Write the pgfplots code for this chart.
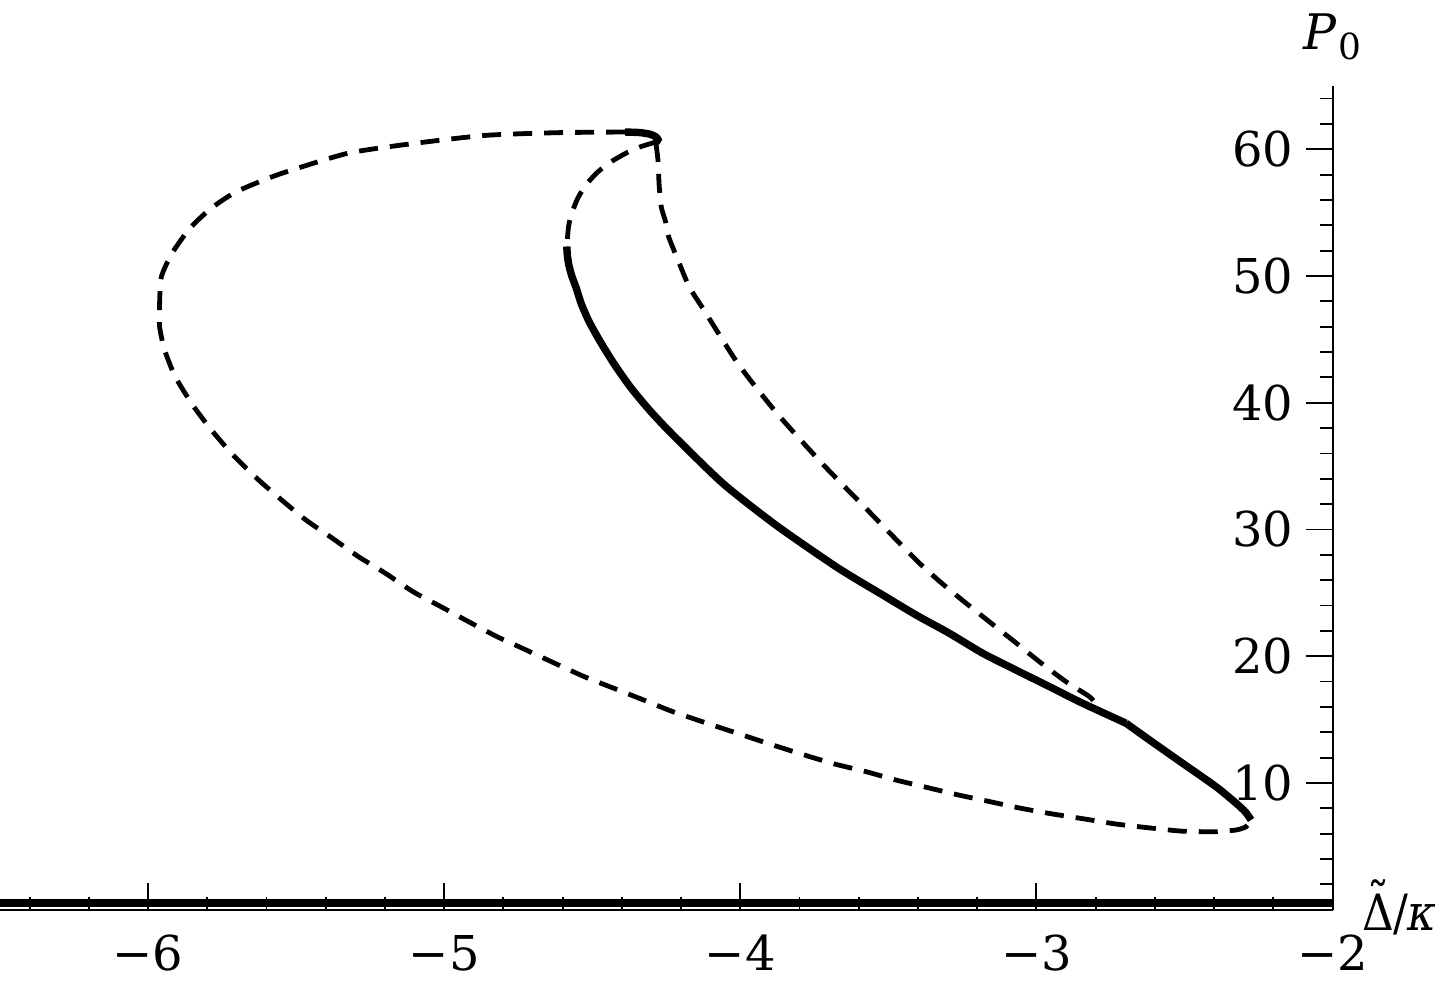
\documentclass[border=0pt]{standalone}
\usepackage{fontspec}
\setmainfont{DejaVu Serif}
\usepackage{graphicx}
\usepackage{pgfplots}
\usepackage{pgfplotstable}
\pgfplotsset{compat=1.18}

\newcommand{\tDelta}{\ooalign{Δ\cr\hidewidth\raisebox{6pt}{\char"02DC}\hidewidth\cr}}

% outer unstable loop (dashed)
\pgfplotstableread{
x y
-4.389 61.36
-4.616 61.31
-4.858 61.10
-5.099 60.47
-5.317 59.73
-5.485 58.58
-5.581 57.83
-5.702 56.65
-5.787 55.34
-5.859 53.76
-5.919 51.79
-5.955 49.94
-5.961 47.85
-5.961 46.00
-5.944 44.16
-5.908 42.05
-5.847 39.74
-5.781 37.71
-5.713 35.88
-5.633 34.04
-5.549 32.33
-5.467 30.75
-5.377 29.30
-5.289 27.85
-5.198 26.54
-5.105 25.09
-5.011 23.91
-4.917 22.72
-4.821 21.54
-4.723 20.49
-4.626 19.44
-4.526 18.38
-4.427 17.47
-4.327 16.55
-4.227 15.62
-4.094 14.57
-3.992 13.78
-3.891 13.00
-3.784 12.21
-3.682 11.50
-3.575 10.89
-3.474 10.23
-3.367 9.63
-3.263 9.05
-3.156 8.52
-3.052 8.00
-2.945 7.55
-2.838 7.16
-2.731 6.76
-2.624 6.47
-2.517 6.21
-2.450 6.16
-2.393 6.15
-2.325 6.29
-2.292 6.55
-2.275 7.08
}\outerdashed

% short stable piece at the top
\pgfplotstableread{
x y
-4.389 61.36
-4.341 61.32
-4.307 61.20
-4.287 61.01
-4.278 60.77
-4.285 60.53
}\topsolid

% inner dashed (top, going back to the left)
\pgfplotstableread{
x y
-4.280 60.61
-4.339 60.18
-4.382 59.74
-4.436 59.02
-4.485 58.13
-4.524 57.10
-4.550 56.08
-4.571 54.81
-4.580 53.89
-4.586 52.33
}\innerdashed

% right dashed branch
\pgfplotstableread{
x y
-4.285 60.49
-4.278 59.15
-4.274 57.18
-4.267 55.47
-4.252 54.26
-4.242 53.10
-4.206 51.00
-4.172 49.13
-4.123 47.32
-4.007 43.06
-3.877 39.19
-3.722 35.17
-3.564 31.38
-3.406 27.59
-3.328 25.93
-3.249 24.40
-3.159 22.72
-3.074 21.15
-2.990 19.57
-2.900 17.99
-2.821 16.81
-2.787 15.91
}\rightdashed

% stable branch (solid), upper part down to the kink
\pgfplotstableread{
x y
-4.586 52.33
-4.584 51.66
-4.579 50.87
-4.569 50.00
-4.554 49.05
-4.537 47.81
-4.510 46.37
-4.472 44.79
-4.426 43.06
-4.369 41.17
-4.304 39.35
-4.227 37.45
-4.058 33.62
-3.877 30.30
-3.671 26.98
-3.519 24.83
-3.406 23.25
-3.294 21.81
-3.181 20.23
-3.069 18.91
-2.956 17.60
-2.844 16.29
-2.697 14.71
}\stablesolid

% stable branch (solid), from the kink to the turning point
\pgfplotstableread{
x y
-2.697 14.71
-2.618 13.39
-2.506 11.55
-2.393 9.70
-2.325 8.39
-2.294 7.71
-2.275 7.08
}\stablelow

% trivial solution
\pgfplotstableread{
x y
-6.6 0.53
-2.0 0.53
}\trivial

\begin{document}
\begin{tikzpicture}
\path[use as bounding box] (0pt,-37.15pt) rectangle (720pt,454.85pt);
\begin{axis}[
  at={(0pt,0pt)}, anchor=south west,
  scale only axis, width=666.25pt, height=411.9pt,
  xmin=-6.5, xmax=-2, ymin=0, ymax=65,
  axis x line=bottom, axis y line=right,
  axis line style={-, line width=1pt, black},
  tick align=inside,
  major tick length=13.5pt, minor tick length=6.5pt,
  every tick/.style={black, line width=0.9pt},
  xtick={-6,-5,-4,-3,-2}, xticklabels={−6,−5,−4,−3,−2},
  minor xtick={-6.4,-6.2,-5.8,-5.6,-5.4,-5.2,-4.8,-4.6,-4.4,-4.2,-3.8,-3.6,-3.4,-3.2,-2.8,-2.6,-2.4,-2.2},
  ytick={10,20,30,40,50,60}, yticklabels={10,20,30,40,50,60},
  minor ytick={2,4,6,8,12,14,16,18,22,24,26,28,32,34,36,38,42,44,46,48,52,54,56,58,62,64},
  xticklabel style={anchor=north, yshift=-12.6pt, inner sep=0pt, font=\fontsize{24}{24}\selectfont},
  yticklabel style={anchor=east, xshift=-19.5pt, inner sep=0pt, font=\fontsize{24}{24}\selectfont},
  xlabel={\scalebox{0.88}[1]{\tDelta\kern-0.5pt/\kern-0.5pt\textit{κ}}},
  ylabel={\textit{P}\kern0.5pt\raisebox{-4.6pt}{\fontsize{18}{18}\selectfont 0}},
  every axis x label/.style={at={(rel axis cs:1,0)}, anchor=base west, xshift=15pt, yshift=-10.6pt, inner sep=0pt, font=\fontsize{25}{25}\selectfont},
  every axis y label/.style={at={(rel axis cs:1,1)}, anchor=base, yshift=18pt, inner sep=0pt, font=\fontsize{24.5}{24.5}\selectfont},
]
\addplot[black, line width=2.4pt, dash pattern=on 9.5pt off 6pt, smooth, tension=0.4] table[x=x,y=y] {\outerdashed};
\addplot[black, line width=2.4pt, dash pattern=on 9.5pt off 6pt, smooth, tension=0.4] table[x=x,y=y] {\innerdashed};
\addplot[black, line width=2.4pt, dash pattern=on 9.5pt off 6pt, smooth, tension=0.4] table[x=x,y=y] {\rightdashed};
\addplot[black, line width=3.7pt, smooth, tension=0.4] table[x=x,y=y] {\stablesolid};
\addplot[black, line width=3.7pt, smooth, tension=0.4] table[x=x,y=y] {\stablelow};
\addplot[black, line width=3.7pt, smooth, tension=0.4] table[x=x,y=y] {\topsolid};
\addplot[black, line width=3.9pt] table[x=x,y=y] {\trivial};
\end{axis}
\end{tikzpicture}
\end{document}
